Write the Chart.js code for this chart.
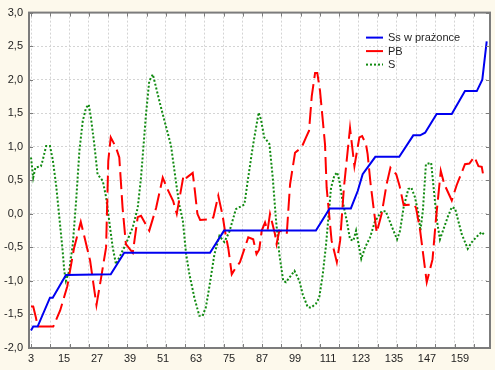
<!DOCTYPE html>
<html>
<head>
<meta charset="utf-8">
<script src="https://cdn.jsdelivr.net/npm/chart.js@4"></script>
<style>
  body { margin: 0; background: #fdf9ec; }
  canvas { display: block; }
</style>
</head>
<body>
<canvas id="chart" width="495" height="370"></canvas>
<script>
// case numbers (x) and values
const ssX = [3, 3.8, 5.4, 9.9, 10.9, 15.7, 32, 36.9, 68.1, 73.2, 106.6, 111.6, 119.3, 121.8, 123.6, 128.2, 136.9, 142, 144.5, 146.3, 150.5, 156, 160.8, 165.1, 167.1, 168.7];
const ssY = [-1.74, -1.68, -1.68, -1.25, -1.25, -0.91, -0.9, -0.58, -0.58, -0.25, -0.25, 0.08, 0.08, 0.34, 0.59, 0.85, 0.85, 1.17, 1.17, 1.21, 1.49, 1.49, 1.83, 1.83, 2.0, 2.57];

const pbX = [3, 3.8, 4.8, 5.4, 11.1, 13.6, 16.2, 18.6, 21.1, 22, 24.5, 26.8, 28.1, 30.3, 31.1, 32, 33.9, 35.1, 36.3, 37.5, 40, 41.8, 43, 46, 48.5, 50.9, 52.5, 54.7, 56, 58.5, 59.6, 61.8, 62.6, 63.5, 64.5, 68.7, 69.3, 71.1, 72.7, 73.5, 74.8, 76, 77.2, 79, 82, 83.8, 85, 86, 86.9, 88.1, 89, 89.9, 91.7, 92.3, 93.3, 95.4, 96, 97.2, 99, 101.4, 103, 104.1, 105.1, 106.3, 107.1, 108.1, 109.9, 110.5, 112.3, 114.2, 115.4, 116.8, 119, 120.6, 122.4, 123.4, 124.8, 125.4, 126.5, 128.7, 130.5, 132.3, 133.7, 135.8, 137, 138.5, 142.2, 143, 144.5, 146.9, 149, 150.2, 152, 153.3, 156, 157.8, 160.8, 162.4, 164.2, 165.7, 166.9, 167.7];
const pbY = [-1.38, -1.38, -1.55, -1.68, -1.68, -1.44, -1.08, -0.52, -0.12, -0.27, -0.7, -1.36, -1.05, -0.5, 0.79, 1.14, 0.99, 0.84, 0.09, -0.45, -0.58, -0.05, -0.03, -0.25, 0.09, 0.54, 0.38, 0.19, 0.0, 0.58, 0.54, 0.61, 0.34, 0.0, -0.09, -0.08, -0.05, 0.27, -0.03, -0.25, -0.53, -0.9, -0.82, -0.72, -0.35, -0.38, -0.6, -0.53, -0.25, -0.13, -0.25, 0.0, -0.3, -0.45, -0.25, -0.28, -0.3, 0.44, 0.91, 0.99, 1.14, 1.24, 1.76, 2.1, 2.1, 1.83, 1.04, 0.39, -0.4, -0.72, -0.4, 0.4, 1.28, 0.71, 1.14, 1.16, 1.04, 0.89, 0.44, -0.28, 0.0, 0.44, 0.69, 0.59, 0.42, 0.13, 0.14, 0.09, -0.25, -1.02, -0.68, -0.1, 0.64, 0.44, 0.2, 0.43, 0.74, 0.75, 0.85, 0.71, 0.7, 0.52];

const sX = [3, 3.8, 4.6, 6.6, 7.2, 8.5, 9.9, 10.9, 12.1, 13.3, 14.5, 15.1, 15.7, 16.9, 18.2, 19.4, 20.6, 21.8, 23, 24, 24.8, 26, 27.2, 29.1, 30.3, 31.1, 32.7, 33.9, 35.7, 37.5, 40, 41.8, 43, 44.8, 46, 47.3, 48.5, 50.3, 52.1, 53.9, 55.7, 56.9, 58.2, 59.4, 60.6, 62.4, 64.2, 65.4, 66.6, 67.8, 69.7, 71.5, 73.3, 75.1, 77.5, 80.6, 81.8, 83.6, 84.8, 85.8, 86.6, 87.8, 89, 89.7, 90.9, 92.1, 93.3, 94.7, 95.7, 98.8, 100.6, 101.8, 103.6, 104.8, 106.6, 107.8, 109.1, 110.3, 112.1, 113.3, 114.3, 115.1, 116.3, 117.8, 119, 120.2, 121.2, 123.1, 124.5, 126.3, 128, 130.5, 132, 134.3, 136.1, 137.2, 138.5, 140.2, 141.3, 142.6, 143.8, 144.6, 145.5, 146.6, 148.5, 150.6, 151.7, 154.5, 156, 157.2, 159.6, 161.8, 163.3, 165.1, 166.9, 168.1];
const sY = [0.84, 0.54, 0.69, 0.71, 0.79, 1.01, 1.01, 0.81, 0.44, -0.05, -0.55, -0.85, -1.0, -0.85, -0.45, 0.19, 0.94, 1.38, 1.58, 1.63, 1.43, 1.04, 0.59, 0.49, 0.25, 0.0, -0.5, -0.75, -0.6, -0.45, -0.2, 0.09, 0.54, 1.48, 1.98, 2.08, 1.88, 1.58, 1.3, 1.02, 0.48, 0.14, -0.1, -0.6, -0.9, -1.25, -1.52, -1.52, -1.39, -1.1, -0.6, -0.33, -0.42, -0.27, 0.07, 0.14, 0.49, 0.99, 1.28, 1.51, 1.41, 1.14, 1.08, 1.04, 0.54, -0.1, -0.6, -1.0, -1.02, -0.85, -1.0, -1.2, -1.39, -1.4, -1.34, -1.25, -0.9, -0.45, 0.39, 0.57, 0.62, 0.5, 0.19, -0.1, -0.38, -0.4, -0.25, -0.67, -0.5, -0.35, -0.12, 0.04, 0.04, -0.2, -0.38, -0.25, 0.1, 0.37, 0.39, 0.25, 0.02, -0.25, 0.05, 0.74, 0.76, -0.1, -0.38, -0.05, 0.1, 0.08, -0.3, -0.52, -0.42, -0.34, -0.27, -0.33];

const xTickLabels = [3, 15, 27, 39, 51, 63, 75, 87, 99, 111, 123, 135, 147, 159];
const seriesNames = ['Ss w prażonce', 'PB', 'S'];

const X_MIN = 2.27, X_MAX = 169.9;
const FONT = { family: '"Liberation Sans", Arial, sans-serif', size: 11 };
const TEXT = '#1e1e1e';
const FRAME = '#7c7c7c';

// grid every 7 cases starting at 3
const gridX = [];
for (let v = 3; v < X_MAX; v += 7) gridX.push(v);

function pts(xs, ys) {
    return xs.map((x, i) => ({ x: x, y: ys[i] }));
}

const framePlugin = {
    id: 'frame',
    beforeDraw(chart) {
        const { ctx, chartArea: a } = chart;
        ctx.save();
        ctx.fillStyle = '#ffffff';
        ctx.fillRect(a.left, a.top, a.right - a.left, a.bottom - a.top);
        ctx.restore();
    },
    afterDraw(chart) {
        const { ctx, chartArea: a, scales } = chart;
        ctx.save();
        // inward tick marks
        ctx.strokeStyle = FRAME;
        ctx.lineWidth = 1;
        ctx.beginPath();
        gridX.forEach(v => {
            const px = Math.round(scales.xg.getPixelForValue(v)) + 0.5;
            ctx.moveTo(px, a.top); ctx.lineTo(px, a.top + 4);
            ctx.moveTo(px, a.bottom); ctx.lineTo(px, a.bottom - 4);
        });
        scales.y.ticks.forEach(t => {
            const py = Math.round(scales.y.getPixelForValue(t.value)) + 0.5;
            ctx.moveTo(a.left, py); ctx.lineTo(a.left + 4, py);
            ctx.moveTo(a.right, py); ctx.lineTo(a.right - 4, py);
        });
        ctx.stroke();
        // frame
        ctx.lineWidth = 2;
        ctx.strokeRect(a.left, a.top, a.right - a.left, a.bottom - a.top);

        // legend inside plot, top right
        const lx = a.right - 124, ly = a.top + 25;
        ctx.font = FONT.size + 'px ' + FONT.family;
        ctx.textBaseline = 'middle';
        ctx.textAlign = 'left';
        chart.data.datasets.forEach((ds, i) => {
            const y = ly + i * 13.5;
            ctx.strokeStyle = ds.borderColor;
            ctx.lineWidth = ds.borderWidth;
            ctx.setLineDash(ds.borderDash || []);
            ctx.beginPath();
            ctx.moveTo(lx, y); ctx.lineTo(lx + 17, y);
            ctx.stroke();
            ctx.setLineDash([]);
            ctx.fillStyle = TEXT;
            ctx.fillText(ds.label, lx + 22, y + 0.5);
        });
        ctx.restore();
    }
};

let ctx = document.getElementById('chart').getContext('2d');

let chart = new Chart(ctx, {
    type: 'line',
    data: {
        datasets: [{
            label: seriesNames[0],
            data: pts(ssX, ssY),
            borderColor: '#0000f0',
            borderWidth: 2,
            pointRadius: 0,
            tension: 0
        }, {
            label: seriesNames[1],
            data: pts(pbX, pbY),
            borderColor: '#ff0000',
            borderWidth: 2,
            borderDash: [17, 6],
            pointRadius: 0,
            tension: 0
        }, {
            label: seriesNames[2],
            data: pts(sX, sY),
            borderColor: '#108a10',
            borderWidth: 2,
            borderDash: [2, 2],
            pointRadius: 0,
            tension: 0
        }]
    },
    options: {
        responsive: false,
        animation: false,
        layout: { padding: { top: 12, right: 5, left: 0, bottom: 0 } },
        plugins: {
            legend: { display: false },
            tooltip: { enabled: false }
        },
        scales: {
            x: {
                type: 'linear',
                min: X_MIN,
                max: X_MAX,
                afterBuildTicks: s => { s.ticks = xTickLabels.map(v => ({ value: v })); },
                afterFit: s => { s.height = 22; },
                ticks: { autoSkip: false, maxRotation: 0, font: FONT, color: TEXT, padding: 4 },
                grid: { display: false, drawTicks: false },
                border: { display: false }
            },
            xg: {
                type: 'linear',
                position: 'bottom',
                min: X_MIN,
                max: X_MAX,
                afterBuildTicks: s => { s.ticks = gridX.map(v => ({ value: v })); },
                afterFit: s => { s.height = 0; },
                ticks: { display: false },
                grid: { color: '#d4d4d4', drawTicks: false },
                border: { display: false, dash: [2, 2] }
            },
            y: {
                min: -2,
                max: 3,
                afterFit: s => { s.width = 29; },
                ticks: {
                    stepSize: 0.5,
                    font: FONT,
                    color: TEXT,
                    padding: 6,
                    callback: v => v.toFixed(1).replace('.', ',')
                },
                grid: { color: '#d4d4d4', drawTicks: false },
                border: { display: false, dash: [2, 2] }
            }
        }
    },
    plugins: [framePlugin]
});
</script>
</body>
</html>
